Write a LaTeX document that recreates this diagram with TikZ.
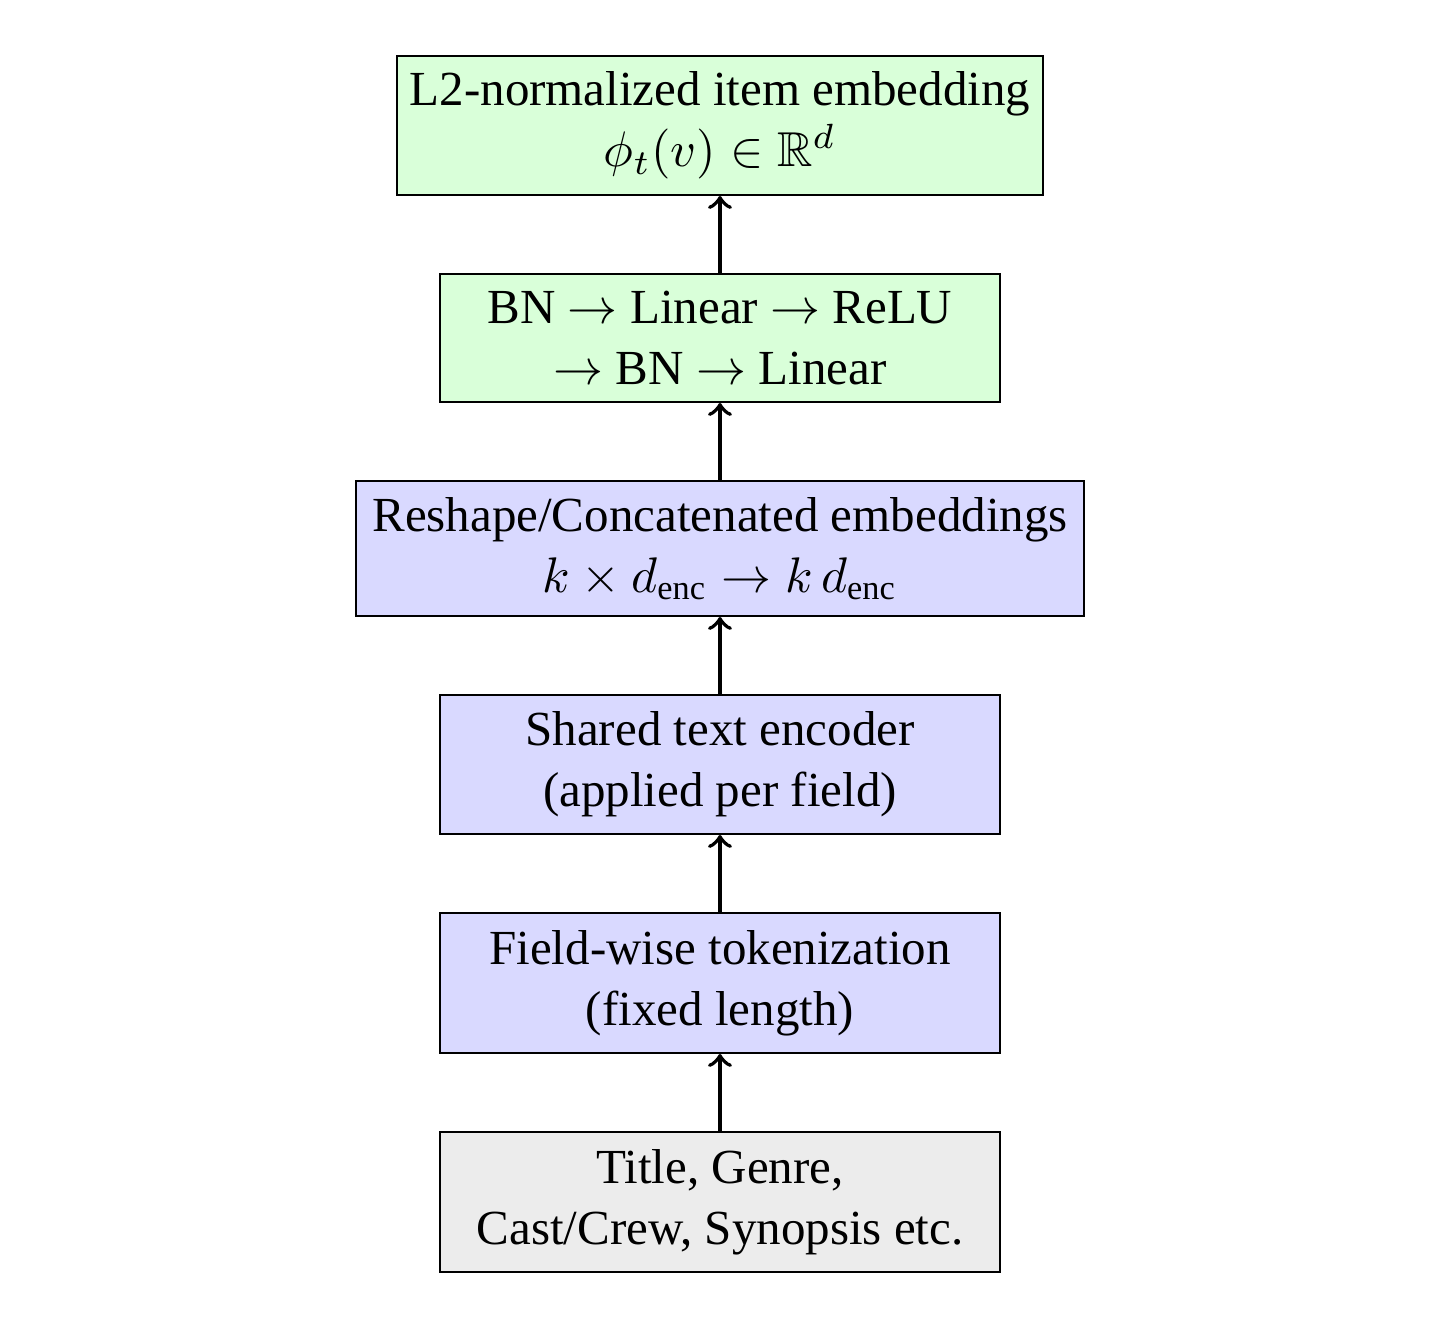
\documentclass[tikz,border=0pt]{standalone}
\usepackage{amsmath,amssymb}
\usepackage{fontspec}
\setmainfont{Liberation Serif}
\usepackage{tikz}
\usetikzlibrary{positioning}
\newcommand{\enc}{\mathrm{enc}}

\begin{document}
\begin{tikzpicture}[
  node distance=15.4pt,
  every node/.style={font=\fontsize{9.8}{12.2}\selectfont},
  box/.style={draw,align=center,inner xsep=2pt,inner ysep=2pt,minimum width=112pt,minimum height=28pt},
  raw/.style={box,fill=gray!15},
  encbox/.style={box,fill=blue!15},
  headbox/.style={box,fill=green!15},
  link/.style={->,thick}]
\useasboundingbox (0,0) rectangle (290.4pt,-266.4pt);
\node[raw] (fields) at (144pt,-240.4pt) {Title, Genre,\\ Cast/Crew, Synopsis etc.};
\node[encbox,above=of fields] (tok) {Field-wise tokenization\\ (fixed length)};
\node[encbox,above=of tok,minimum height=27.8pt] (shared) {Shared text encoder\\ (applied per field)};
\node[encbox,above=of shared,minimum width=145.6pt,minimum height=27pt] (concat) {Reshape/Concatenated embeddings\\ $k \times d_{\enc} \rightarrow k\,d_{\enc}$};
\node[headbox,above=of concat,minimum height=25.6pt] (mlp) {BN $\rightarrow$ Linear $\rightarrow$ ReLU\\ $\rightarrow$ BN $\rightarrow$ Linear};
\node[headbox,above=of mlp,minimum width=129.2pt,minimum height=27.8pt] (out) {L2-normalized item embedding\\ $\phi_t(v) \in \mathbb{R}^d$};
\draw[link] (fields) -- (tok);
\draw[link] (tok) -- (shared);
\draw[link] (shared) -- (concat);
\draw[link] (concat) -- (mlp);
\draw[link] (mlp) -- (out);
\end{tikzpicture}
\end{document}
